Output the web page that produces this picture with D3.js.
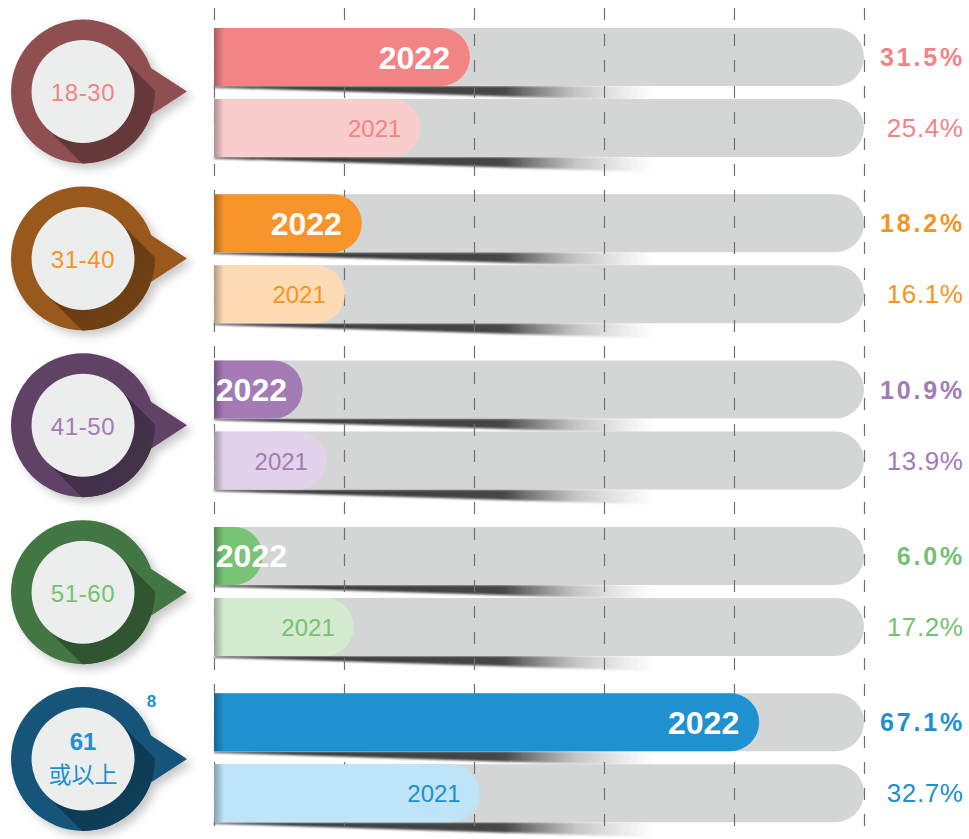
<!DOCTYPE html>
<html>
<head>
<meta charset="utf-8">
<script src="https://cdn.jsdelivr.net/npm/d3@7"></script>
<style>
  html, body { margin: 0; padding: 0; background: #fff; }
  svg { display: block; font-family: "Liberation Sans", Arial, Helvetica, sans-serif; }
</style>
</head>
<body>
<div id="chart"></div>
<script>
// data
const ageGroups = [["18-30"], ["31-40"], ["41-50"], ["51-60"], ["61", "或以上"]];
const share2022 = [31.5, 18.2, 10.9, 6.0, 67.1];
const share2021 = [25.4, 16.1, 13.9, 17.2, 32.7];
const years = ["2022", "2021"];
const gridTicks = [0, 16, 32, 48, 64, 80];
const footnoteMark = "8";

// palette (per age group)
const color2022 = ["#f28486", "#f7942a", "#a57bb5", "#78c474", "#1f91d0"];
const color2021 = ["#f9cdcc", "#fddcb5", "#e3d3ea", "#d4ebd0", "#bfe4f7"];
const ringColor = ["#8f4f51", "#99581a", "#5e4366", "#437643", "#135579"];
const labelColor = ["#f28486", "#f7941d", "#a57bb5", "#76c16f", "#1e90cf"];

const width = 969;
const height = 839;
const barH = 58;
const barOffset = 71;

const x = d3.scaleLinear().domain([0, 80]).range([214, 864]);
const row = d3.scaleBand().domain(d3.range(ageGroups.length)).range([28, 28 + 5 * 166.3]);
const badgeY = d3.scaleLinear().domain([0, 4]).range([91.5, 759]);
const fmt = (v) => d3.format(".1f")(v) + "%";

const svg = d3.select("#chart")
    .append("svg")
    .attr("width", width)
    .attr("height", height);

const defs = svg.append("defs");

const shadowGrad = defs.append("linearGradient").attr("id", "barShadow");
shadowGrad.append("stop").attr("offset", 0).attr("stop-color", "#2a2a2a").attr("stop-opacity", 0.95);
shadowGrad.append("stop").attr("offset", 0.66).attr("stop-color", "#333").attr("stop-opacity", 0.9);
shadowGrad.append("stop").attr("offset", 0.82).attr("stop-color", "#555").attr("stop-opacity", 0.35);
shadowGrad.append("stop").attr("offset", 1).attr("stop-color", "#777").attr("stop-opacity", 0);

const edgeGrad = defs.append("linearGradient").attr("id", "edgeShade");
edgeGrad.append("stop").attr("offset", 0).attr("stop-color", "#000").attr("stop-opacity", 0.3);
edgeGrad.append("stop").attr("offset", 1).attr("stop-color", "#000").attr("stop-opacity", 0);

defs.append("filter").attr("id", "soft")
    .append("feGaussianBlur").attr("stdDeviation", 1.2);

const drop = defs.append("filter").attr("id", "badgeShadow")
    .attr("x", "-30%").attr("y", "-30%").attr("width", "170%").attr("height", "170%");
drop.append("feDropShadow")
    .attr("dx", 5).attr("dy", 5).attr("stdDeviation", 5)
    .attr("flood-color", "#000").attr("flood-opacity", 0.22);

function pill(x0, x1, y, h) {
    const r = h / 2;
    const xr = Math.max(x0, x1 - r);
    return `M${x0},${y}H${xr}A${r},${r} 0 0 1 ${xr},${y + h}H${x0}Z`;
}

// bar rows: one entry per bar
const bars = [];
ageGroups.forEach((g, i) => {
    bars.push({ i, year: years[0], value: share2022[i], y: row(i), fill: color2022[i] });
    bars.push({ i, year: years[1], value: share2021[i], y: row(i) + barOffset, fill: color2021[i] });
});

// shadows below the bars
svg.append("g")
    .selectAll("path")
    .data(bars)
    .join("path")
    .attr("d", (d) => {
        const yb = d.y + barH;
        return `M${x(0)},${yb}L${x(0) + 440},${yb}L${x(0) + 440},${yb + 15}L${x(0)},${yb + 1.5}Z`;
    })
    .attr("fill", "url(#barShadow)")
    .attr("filter", "url(#soft)");

// grey tracks
svg.append("g")
    .selectAll("path")
    .data(bars)
    .join("path")
    .attr("d", (d) => pill(x(0), x(80), d.y, barH))
    .attr("fill", "#d4d5d5");

// dashed gridlines
svg.append("g")
    .selectAll("line")
    .data(gridTicks)
    .join("line")
    .attr("x1", (d) => x(d) + 0.5)
    .attr("x2", (d) => x(d) + 0.5)
    .attr("y1", 8)
    .attr("y2", height)
    .attr("stroke", "#707070")
    .attr("stroke-width", 1.2)
    .attr("stroke-dasharray", "12,14");

// value bars
svg.append("g")
    .selectAll("path")
    .data(bars)
    .join("path")
    .attr("d", (d) => pill(x(0), x(d.value), d.y, barH))
    .attr("fill", (d) => d.fill);

// dark shading on the left edge
svg.append("g")
    .selectAll("rect")
    .data(bars)
    .join("rect")
    .attr("x", x(0))
    .attr("y", (d) => d.y)
    .attr("width", 10)
    .attr("height", barH)
    .attr("fill", "url(#edgeShade)");

// year labels inside bars
svg.append("g")
    .selectAll("text")
    .data(bars)
    .join("text")
    .attr("text-anchor", "end")
    .attr("x", (d) => d.year === "2022" ? Math.max(x(d.value) - 20, 287) : x(d.value) - 19)
    .attr("y", (d) => d.y + barH / 2 + (d.year === "2022" ? 11.5 : 9))
    .attr("font-size", (d) => d.year === "2022" ? 32 : 24)
    .attr("font-weight", (d) => d.year === "2022" ? "bold" : "normal")
    .attr("fill", (d) => d.year === "2022" ? "#fff" : labelColor[d.i])
    .text((d) => d.year);

// percentage labels on the right
svg.append("g")
    .selectAll("text")
    .data(bars)
    .join("text")
    .attr("text-anchor", "end")
    .attr("x", (d) => d.year === "2022" ? 965 : 963.5)
    .attr("y", (d) => d.y + barH / 2 + 9)
    .attr("font-size", (d) => d.year === "2022" ? 25 : 26)
    .attr("font-weight", (d) => d.year === "2022" ? "bold" : "normal")
    .attr("letter-spacing", (d) => d.year === "2022" ? 2.8 : 0.6)
    .attr("fill", (d) => labelColor[d.i])
    .text((d) => fmt(d.value));

// badges
const rOuter = 72;
const rInner = 51.5;

const badge = svg.append("g")
    .selectAll("g")
    .data(ageGroups)
    .join("g")
    .attr("transform", (d, i) => `translate(83,${badgeY(i)})`);

badge.each(function (d, i) {
    const g = d3.select(this);
    defs.append("clipPath").attr("id", `ring${i}`)
        .append("circle").attr("r", rOuter);

    const body = g.append("g").attr("filter", "url(#badgeShadow)");
    body.append("circle").attr("r", rOuter).attr("fill", ringColor[i]);
    body.append("path")
        .attr("d", "M58,-30L104,0L58,30Z")
        .attr("fill", ringColor[i]);

    const gid = `ringShade${i}`;
    const lg = defs.append("linearGradient").attr("id", gid)
        .attr("gradientUnits", "userSpaceOnUse")
        .attr("x1", 0).attr("y1", 0).attr("x2", 70).attr("y2", 70);
    lg.append("stop").attr("offset", 0).attr("stop-color", d3.color(ringColor[i]).darker(1.1));
    lg.append("stop").attr("offset", 0.7).attr("stop-color", d3.color(ringColor[i]).darker(0.9));
    lg.append("stop").attr("offset", 1).attr("stop-color", d3.color(ringColor[i]).darker(0.2));

    g.append("line")
        .attr("x1", 0).attr("y1", 0).attr("x2", 90).attr("y2", 90)
        .attr("stroke", `url(#${gid})`)
        .attr("stroke-width", rInner * 2)
        .attr("stroke-linecap", "round")
        .attr("clip-path", `url(#ring${i})`);

    g.append("circle").attr("r", rInner).attr("fill", "#eceeee");

    if (d.length === 1) {
        g.append("text")
            .attr("text-anchor", "middle")
            .attr("y", 9.5)
            .attr("font-size", 24)
            .attr("letter-spacing", 0.6)
            .attr("fill", labelColor[i])
            .text(d[0]);
    } else {
        g.append("text")
            .attr("text-anchor", "middle")
            .attr("y", -9)
            .attr("font-size", 24)
            .attr("font-weight", "bold")
            .attr("fill", labelColor[i])
            .text(d[0]);
        g.append("text")
            .attr("text-anchor", "middle")
            .attr("y", 24)
            .attr("font-size", 23)
            .attr("font-family", "'Noto Sans CJK TC', 'Noto Sans CJK SC', sans-serif")
            .attr("fill", labelColor[i])
            .text(d[1]);
        g.append("text")
            .attr("text-anchor", "middle")
            .attr("x", 68.5)
            .attr("y", -52)
            .attr("font-size", 17)
            .attr("font-weight", "bold")
            .attr("fill", labelColor[i])
            .text(footnoteMark);
    }
});
</script>
</body>
</html>
